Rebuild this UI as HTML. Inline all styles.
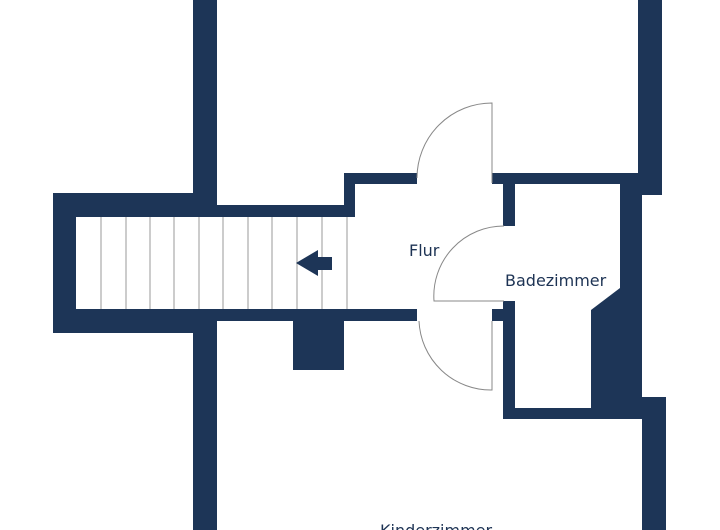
<!DOCTYPE html>
<html><head><meta charset="utf-8"><style>
html,body{margin:0;padding:0;background:#fff;width:720px;height:530px;overflow:hidden}
svg{display:block}
text{font-family:"DejaVu Sans","Liberation Sans",sans-serif;font-size:16px;fill:#1d3354}
</style></head><body>
<svg width="720" height="530" viewBox="0 0 720 530" xmlns="http://www.w3.org/2000/svg">
<g fill="#1d3557">
<rect x="193" y="0" width="24" height="217"/>
<rect x="53" y="193" width="164" height="24"/>
<rect x="53" y="193" width="23" height="140"/>
<rect x="53" y="309" width="164" height="24"/>
<rect x="193" y="309" width="24" height="221"/>
<rect x="193" y="205" width="162" height="12"/>
<rect x="344" y="173" width="11" height="44"/>
<rect x="344" y="173" width="73" height="11"/>
<rect x="492" y="173" width="146" height="11"/>
<rect x="76" y="309" width="341" height="12"/>
<rect x="293" y="321" width="51" height="49"/>
<rect x="492" y="309" width="23" height="12"/>
<rect x="638" y="0" width="24" height="195"/>
<rect x="503" y="173" width="12" height="53"/>
<rect x="503" y="301" width="12" height="118"/>
<rect x="503" y="408" width="139" height="11"/>
<rect x="620" y="173" width="22" height="235"/>
<polygon points="620,288 591,310 591,408 620,408"/>
<rect x="591" y="397" width="75" height="22"/>
<rect x="642" y="397" width="24" height="133"/>
</g>
<g stroke="#999" stroke-width="1">
<line x1="101" y1="217" x2="101" y2="309"/><line x1="126" y1="217" x2="126" y2="309"/>
<line x1="150" y1="217" x2="150" y2="309"/><line x1="174" y1="217" x2="174" y2="309"/>
<line x1="199" y1="217" x2="199" y2="309"/><line x1="223" y1="217" x2="223" y2="309"/>
<line x1="248" y1="217" x2="248" y2="309"/><line x1="272" y1="217" x2="272" y2="309"/>
<line x1="297" y1="217" x2="297" y2="309"/><line x1="322" y1="217" x2="322" y2="309"/>
<line x1="347" y1="217" x2="347" y2="309"/>
</g>
<polygon points="296,263 318,250 318,257 332,257 332,270 318,270 318,276" fill="#1d3557"/>
<g fill="none" stroke="#888" stroke-width="1">
<path d="M492,183 L492,103 A75,75 0 0 0 417,178"/>
<path d="M492,321 L492,390 A72,72 0 0 1 419,321"/>
<path d="M504,301 L434,301 A70,70 0 0 1 504,226"/>
</g>
<text x="409" y="256">Flur</text>
<text x="505" y="286">Badezimmer</text>
<text x="380" y="536">Kinderzimmer</text>
</svg>
</body></html>
